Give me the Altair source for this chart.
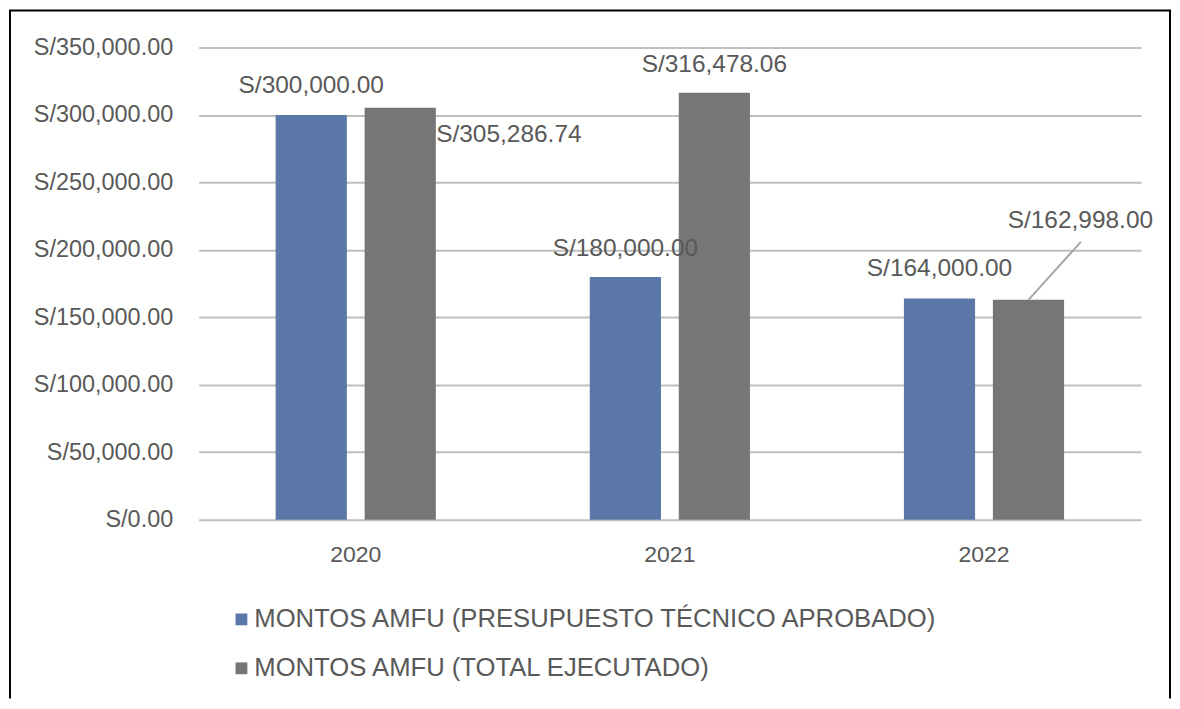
import altair as alt
import pandas as pd

years = ["2020", "2021", "2022"]
series = ["MONTOS AMFU (PRESUPUESTO TÉCNICO APROBADO)", "MONTOS AMFU (TOTAL EJECUTADO)"]
aprobado = [300000.00, 180000.00, 164000.00]
ejecutado = [305286.74, 316478.06, 162998.00]
y_ticks = [0, 50000, 100000, 150000, 200000, 250000, 300000, 350000]

rows = []
for i, y in enumerate(years):
    rows.append({"year": y, "series": series[0], "key": "a" + y, "value": aprobado[i]})
    rows.append({"year": y, "series": series[1], "key": "e" + y, "value": ejecutado[i]})
df = pd.DataFrame(rows)

FONT = "Liberation Sans Narrow, Arial Narrow, Liberation Sans, Arial, sans-serif"
TXT = "#595959"
W, H = 944, 473

x = alt.X("year:N", sort=years, title=None,
          scale=alt.Scale(paddingInner=0, paddingOuter=0),
          axis=alt.Axis(labelAngle=0, ticks=False, domain=False, labelPadding=24,
                        labelFontSize=23, labelColor=TXT, labelFont=FONT))
xo = alt.XOffset("series:N", sort=series,
                 scale=alt.Scale(paddingInner=0.2, paddingOuter=0.865))
y = alt.Y("value:Q", title=None,
          scale=alt.Scale(domain=[0, 350000], nice=False),
          axis=alt.Axis(values=y_ticks, format=",.2f", labelExpr="'S/' + datum.label",
                        ticks=False, domain=False, labelPadding=26,
                        labelFontSize=23.5, labelColor=TXT, labelFont=FONT,
                        gridColor="#bfbfbf", gridWidth=2))

base = alt.Chart(df)

bars = base.mark_bar().encode(
    x=x, xOffset=xo, y=y,
    color=alt.Color("series:N", sort=series,
                    scale=alt.Scale(domain=series, range=["#5b77a7", "#767676"]),
                    legend=alt.Legend(title=None, orient="none", legendX=30, legendY=560,
                                      direction="vertical", symbolType="square",
                                      symbolSize=140, symbolStrokeWidth=0,
                                      labelFontSize=25.7, labelColor=TXT, labelFont=FONT,
                                      rowPadding=22, labelOffset=0,
                                      labelLimit=1000)),
)

LFS = 24.5

def lab(key, dx, dy, align="center"):
    return base.transform_filter(alt.datum.key == key).transform_calculate(
        t="'S/' + format(datum.value, ',.2f')"
    ).mark_text(
        font=FONT, fontSize=LFS, color=TXT, align=align, baseline="middle", dx=dx, dy=dy
    ).encode(x=alt.X("year:N", sort=years), xOffset=alt.XOffset("series:N", sort=series),
             y="value:Q", text="t:N")

labels = [
    lab("a2020", 0, -29),
    lab("e2020", 36, 27, "left"),
    lab("a2021", 0, -28),
    lab("e2021", 0, -28),
    lab("a2022", 0, -29),
    lab("e2022", 52, -79),
]

leader = base.transform_filter(alt.datum.key == "e2022").mark_rule(
    color="#a6a6a6", strokeWidth=2, x2Offset=97, y2Offset=-58
).encode(x=alt.X("year:N", sort=years), xOffset=alt.XOffset("series:N", sort=series),
         y="value:Q", x2=alt.X2("year:N"), y2=alt.Y2("value:Q"))

# outer frame (left, top, right edges; bottom edge lies below the picture)
fdf = pd.DataFrame({"k": [0]})
fkw = dict(color="#000000", strokeWidth=2)
frame_l = alt.Chart(fdf).mark_rule(**fkw).encode(x=alt.value(-189), y=alt.value(-37), y2=alt.value(652))
frame_r = alt.Chart(fdf).mark_rule(**fkw).encode(x=alt.value(973), y=alt.value(-37), y2=alt.value(652))
frame_t = alt.Chart(fdf).mark_rule(**fkw).encode(x=alt.value(-190), x2=alt.value(974), y=alt.value(-37))

chart = alt.layer(bars, *labels, leader, frame_l, frame_r, frame_t).properties(
    width=W, height=H, padding={"left": 0, "top": 1, "right": 0, "bottom": 0}
).configure_view(stroke=None)

chart.save("out.html", embed_options={"renderer": "svg", "actions": False})
